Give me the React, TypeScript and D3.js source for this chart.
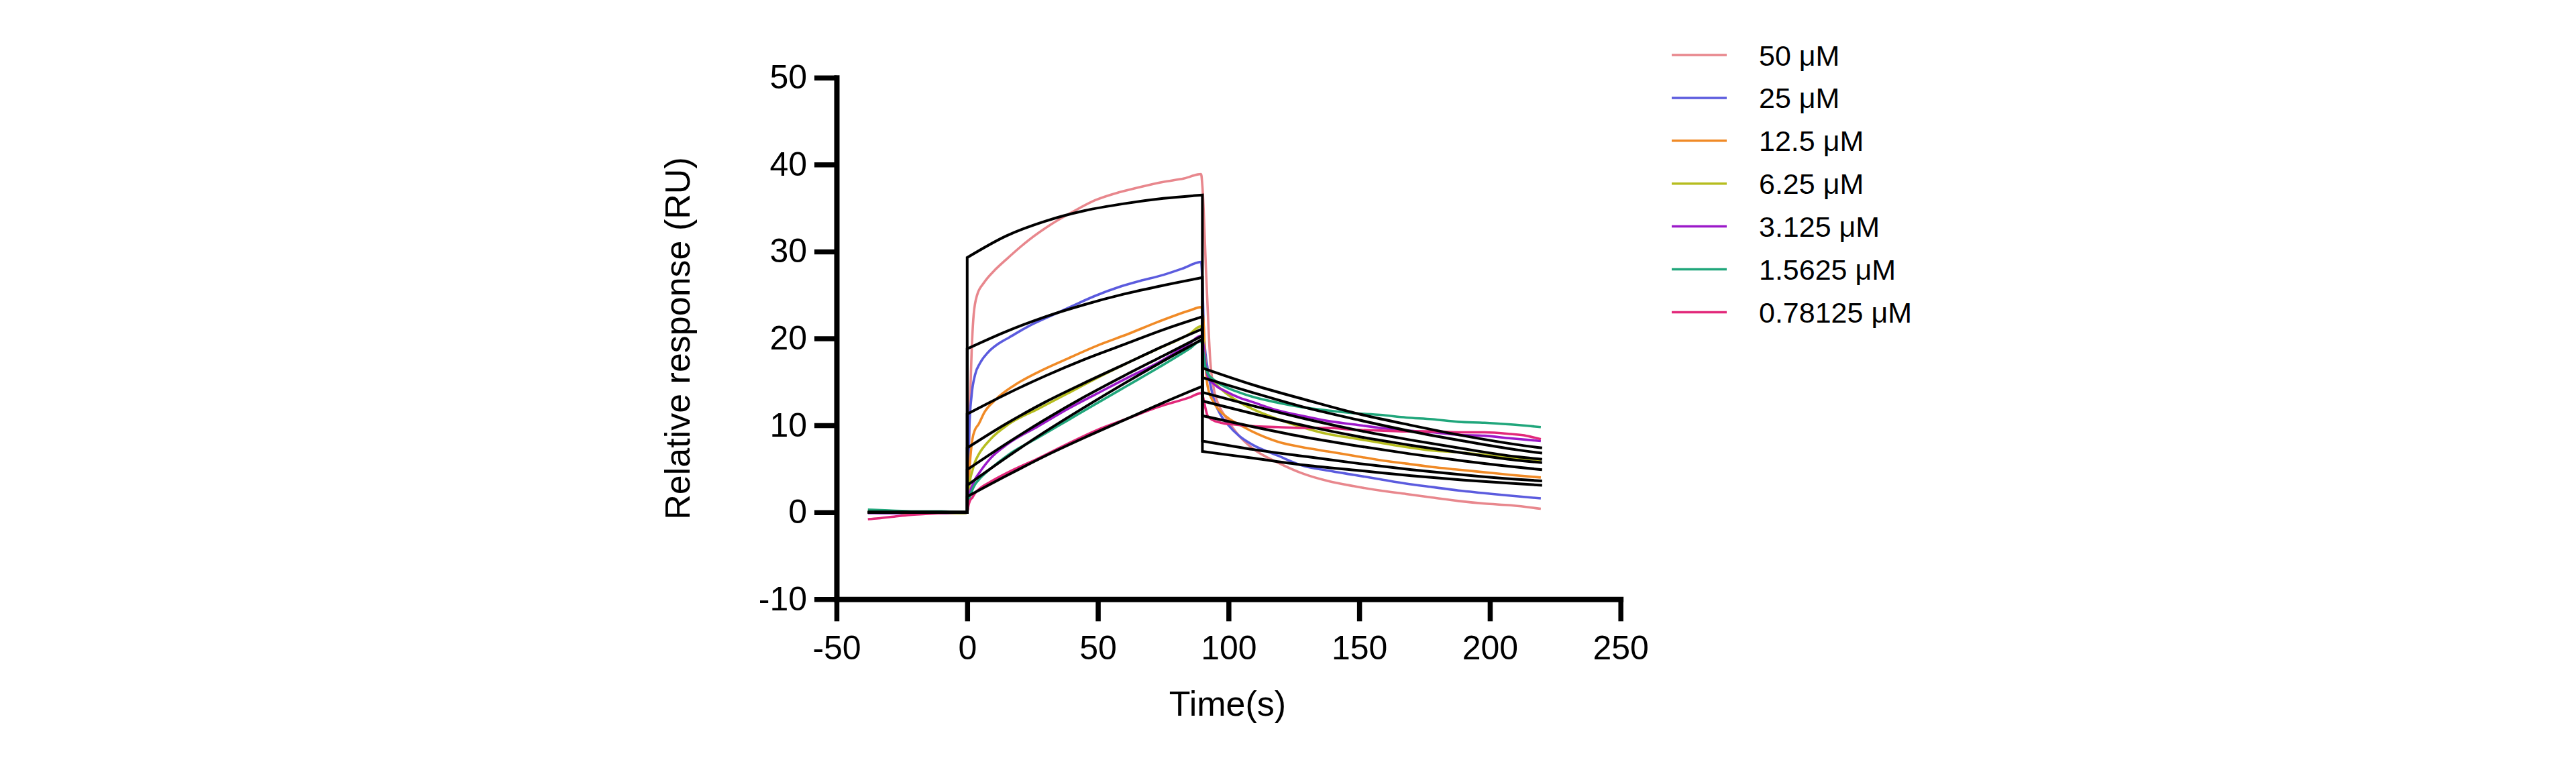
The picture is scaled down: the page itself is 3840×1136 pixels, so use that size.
import React, { useEffect, useRef } from 'react';
import * as d3 from 'd3';

type Pt = [number, number];

const concentrations = ['50 μM', '25 μM', '12.5 μM', '6.25 μM', '3.125 μM', '1.5625 μM', '0.78125 μM'];
const seriesColors = ['#E8878D', '#5B5BDE', '#F08A26', '#B6BD1F', '#9B19C9', '#20A67B', '#E2287A'];

const xTicks = [-50, 0, 50, 100, 150, 200, 250];
const yTicks = [-10, 0, 10, 20, 30, 40, 50];

// Measured sensorgrams: [time (s), response (RU)]
const resp50: Pt[] = [
  [-38, 0.0], [-30, -0.1], [-20, 0.0], [-10, -0.1], [-1, -0.1], [0, 0],
  [0.5, 6], [1, 12], [1.7, 18.5], [2.5, 22.8], [3.8, 25.0], [6.4, 26.4], [10.7, 27.9], [15, 29.1],
  [23.5, 31.3], [32, 33.1], [40.6, 34.6], [49, 35.9], [58, 36.8], [66, 37.4], [75, 38.0], [83, 38.4], [89.5, 38.9],
  [90, 37.5], [91.5, 27], [93, 17.5], [94.5, 14.0], [96.5, 12.2], [99, 10.9], [104, 8.8], [109, 7.4],
  [119, 5.7], [128, 4.5], [138, 3.6], [148, 3.0], [158, 2.5], [168, 2.1], [178, 1.7], [188, 1.3],
  [198, 1.0], [208, 0.8], [219.5, 0.4],
];
const resp25: Pt[] = [
  [-38, 0.0], [-30, -0.1], [-20, -0.1], [-10, 0.0], [-1, -0.1], [0, 0],
  [0.5, 5], [0.8, 9.6], [1.7, 13.5], [3, 15.8], [5, 17.2], [8, 18.4], [12, 19.4], [16, 20.1],
  [23.5, 21.4], [32, 22.6], [40, 23.7], [49, 24.9], [58, 25.9], [66, 26.6], [75, 27.3], [83, 28.1], [89.5, 28.8],
  [90, 26.5], [90.6, 20.5], [92, 16.5], [94, 13.4], [97, 11.2], [100, 10.0], [104, 8.8], [109, 7.8],
  [119, 6.5], [128, 5.4], [138, 4.8], [148, 4.3], [158, 3.8], [168, 3.3], [178, 2.9], [188, 2.5],
  [198, 2.2], [208, 1.9], [219.5, 1.6],
];
const resp12: Pt[] = [
  [-38, 0.1], [-30, 0.0], [-20, -0.1], [-10, -0.1], [-1, 0.0], [0, 0],
  [0.5, 3], [1, 5.5], [2, 8.4], [3, 9.5], [4.3, 10.1], [6.6, 11.5], [11, 13.0], [18, 14.6],
  [27, 16.1], [38.6, 17.7], [50, 19.2], [61.5, 20.5], [73, 21.9], [85, 23.2], [89.5, 23.6],
  [90.3, 22.5], [91, 18], [92, 14.5], [94, 12.8], [96, 11.9], [100, 10.8], [104, 10.1], [109, 9.3],
  [119, 8.1], [128, 7.5], [138, 7.0], [148, 6.5], [158, 6.0], [168, 5.6], [178, 5.2], [188, 4.9],
  [198, 4.6], [208, 4.3], [219.5, 4.0],
];
const resp6: Pt[] = [
  [-38, 0.0], [-30, 0.0], [-20, -0.1], [-10, -0.1], [-1, -0.1], [0, 0],
  [0.5, 2], [1, 3.5], [2, 4.8], [3, 5.8], [4.3, 6.6], [8.9, 8.4], [15.7, 10.1], [27.2, 11.9],
  [38.6, 13.7], [50, 15.5], [61.5, 17.2], [73, 18.8], [85, 20.5], [89.5, 21.4],
  [90.3, 20], [91, 17.5], [92, 16.0], [95, 14.8], [99, 13.7], [104, 12.7], [109, 11.9],
  [119, 10.7], [128, 9.8], [138, 9.0], [148, 8.5], [158, 8.0], [168, 7.5], [178, 7.1], [188, 6.9],
  [198, 6.6], [208, 6.3], [219.5, 6.0],
];
const resp3: Pt[] = [
  [-38, -0.1], [-30, -0.1], [-20, 0.0], [-10, -0.1], [-1, 0.0], [0, 0],
  [0.5, 1.5], [1, 2.3], [2, 3.1], [3, 3.8], [4.3, 4.4], [8.9, 6.2], [15.7, 7.9], [27.2, 9.9],
  [38.6, 11.9], [50, 13.7], [61.5, 15.5], [73, 17.2], [85, 19.4], [89.5, 20.3],
  [90.3, 19.5], [91, 17.5], [92, 15.7], [95, 14.6], [99, 13.9], [104, 13.2], [109, 12.7],
  [119, 11.7], [128, 11.1], [138, 10.5], [148, 10.1], [158, 9.7], [168, 9.4], [178, 9.2], [188, 8.9],
  [198, 8.8], [208, 8.5], [219.5, 8.2],
];
const resp1: Pt[] = [
  [-38, 0.3], [-30, 0.2], [-20, 0.1], [-10, 0.1], [-1, 0.0], [0, 0],
  [0.5, 1.2], [1, 1.8], [2, 2.6], [3, 3.2], [4.3, 3.7], [8.9, 5.0], [15.7, 6.6], [27.2, 8.6],
  [38.6, 10.6], [50, 12.6], [61.5, 14.6], [73, 16.6], [85, 18.8], [89.5, 19.7],
  [90.3, 18.5], [91, 17], [92, 16.0], [95, 15.1], [99, 14.4], [104, 13.8], [109, 13.3],
  [119, 12.6], [128, 12.1], [138, 11.7], [148, 11.4], [158, 11.2], [168, 10.9], [178, 10.7], [188, 10.4],
  [198, 10.3], [208, 10.1], [219.5, 9.8],
];
const resp07: Pt[] = [
  [-38, -0.8], [-34, -0.7], [-28, -0.5], [-22, -0.3], [-16, -0.2], [-10, -0.1], [-4, 0.0], [0, 0],
  [0.5, 0.8], [1, 1.3], [2, 1.7], [3, 2.2], [4.3, 2.6], [8.9, 3.5], [15.7, 4.6], [27.2, 6.2],
  [38.6, 7.9], [50, 9.5], [61.5, 10.8], [73, 12.1], [85, 13.2], [89.5, 13.7],
  [90.3, 13.2], [91, 12.2], [92, 11.1], [94, 10.6], [97, 10.3], [102, 10.1], [109, 9.9],
  [119, 9.8], [128, 9.7], [138, 9.7], [148, 9.5], [158, 9.4], [168, 9.3], [178, 9.3], [188, 9.2],
  [198, 9.2], [208, 9.0], [214, 8.8], [219.5, 8.4],
];
const measured: Pt[][] = [resp50, resp25, resp12, resp6, resp3, resp1, resp07];

// Kinetic fit: baseline, association phase and dissociation phase
const fitBaseline: Pt[] = [[-38, 0], [0, 0]];
const assocTimes = [0, 15, 30, 45, 60, 75, 90];
const fitAssoc50 = [29.3, 31.8, 33.5, 34.7, 35.5, 36.1, 36.5];
const fitAssoc25 = [18.8, 20.8, 22.5, 23.9, 25.1, 26.1, 27.0];
const fitAssoc12 = [11.3, 13.6, 15.7, 17.6, 19.3, 21.0, 22.5];
const fitAssoc6 = [7.4, 10.2, 12.7, 14.9, 17.0, 19.1, 21.1];
const fitAssoc3 = [4.9, 7.9, 10.7, 13.3, 15.7, 18.0, 20.3];
const fitAssoc1 = [3.1, 6.3, 9.3, 12.1, 14.8, 17.4, 19.9];
const fitAssoc07 = [1.8, 4.2, 6.5, 8.6, 10.6, 12.6, 14.5];
const dissTimes = [90, 110, 130, 150, 170, 190, 210, 220];
const fitDiss50 = [7.0, 6.2, 5.4, 4.8, 4.2, 3.7, 3.3, 3.1];
const fitDiss25 = [8.2, 7.2, 6.4, 5.6, 4.9, 4.3, 3.8, 3.6];
const fitDiss12 = [11.1, 9.8, 8.6, 7.6, 6.7, 5.9, 5.2, 4.9];
const fitDiss6 = [13.8, 12.2, 10.7, 9.4, 8.3, 7.3, 6.4, 6.1];
const fitDiss3 = [15.5, 13.7, 12.0, 10.6, 9.3, 8.2, 7.2, 6.8];
const fitDiss1 = [16.6, 14.6, 12.9, 11.3, 10.0, 8.8, 7.8, 7.4];
const fitDiss07 = [12.8, 11.3, 9.9, 8.7, 7.7, 6.8, 6.0, 5.7];
const fitAssoc = [fitAssoc50, fitAssoc25, fitAssoc12, fitAssoc6, fitAssoc3, fitAssoc1, fitAssoc07];
const fitDiss = [fitDiss50, fitDiss25, fitDiss12, fitDiss6, fitDiss3, fitDiss1, fitDiss07];

const W = 3840;
const H = 1136;
const FONT = '"Liberation Sans", Arial, Helvetica, sans-serif';

const x = d3.scaleLinear().domain([-50, 250]).range([1247, 2415.7]);
const y = d3.scaleLinear().domain([-10, 50]).range([893.3, 115.7]);

const straight = d3.line<Pt>().x((d) => x(d[0])).y((d) => y(d[1]));
const smooth = d3.line<Pt>().x((d) => x(d[0])).y((d) => y(d[1])).curve(d3.curveMonotoneX);

// joins several path pieces into one continuous path
function joinPaths(parts: string[]): string {
  return parts.map((p, i) => (i === 0 ? p : 'L' + p.slice(1))).join('');
}

function fitPath(i: number): string {
  const a: Pt[] = assocTimes.map((t, k) => [t, fitAssoc[i][k]]);
  const d: Pt[] = dissTimes.map((t, k) => [t, fitDiss[i][k]]);
  return joinPaths([straight(fitBaseline) as string, smooth(a) as string, smooth(d) as string]);
}

export default function App() {
  const xAxisRef = useRef<SVGGElement>(null);
  const yAxisRef = useRef<SVGGElement>(null);

  useEffect(() => {
    const style = (g: d3.Selection<SVGGElement, unknown, null, undefined>) => {
      g.select('.domain').attr('stroke-width', 8).attr('stroke-linecap', 'square').attr('stroke', '#000');
      g.selectAll('.tick line').attr('stroke-width', 7.5).attr('stroke', '#000');
      g.selectAll('.tick text').attr('font-size', 50).attr('font-family', FONT).attr('fill', '#000');
    };
    if (xAxisRef.current) {
      const g = d3.select(xAxisRef.current);
      g.call(
        d3.axisBottom(x).tickValues(xTicks).tickSize(33).tickSizeOuter(0).tickPadding(21)
          .tickFormat((d) => String(d))
      );
      style(g);
    }
    if (yAxisRef.current) {
      const g = d3.select(yAxisRef.current);
      g.call(
        d3.axisLeft(y).tickValues(yTicks).tickSize(33).tickSizeOuter(0).tickPadding(11)
          .tickFormat((d) => String(d))
      );
      style(g);
    }
  }, []);

  const legendX0 = 2492;
  const legendX1 = 2574;
  const legendTextX = 2622;
  const legendY0 = 82;
  const legendStep = 63.9;

  return (
    <svg
      width={W}
      height={H}
      viewBox={`0 0 ${W} ${H}`}
      style={{ position: 'absolute', left: 0, top: 0, background: '#fff' }}
      fontFamily={FONT}
    >
      <rect x={0} y={0} width={W} height={H} fill="#fff" />

      {measured.map((s, i) => (
        <path
          key={`m${i}`}
          d={smooth(s) as string}
          fill="none"
          stroke={seriesColors[i]}
          strokeWidth={3.6}
          strokeLinejoin="round"
        />
      ))}

      {fitAssoc.map((_, i) => (
        <path key={`f${i}`} d={fitPath(i)} fill="none" stroke="#000" strokeWidth={4} strokeLinejoin="miter" />
      ))}

      <g ref={xAxisRef} transform={`translate(0,${y(-10)})`} />
      <g ref={yAxisRef} transform={`translate(${x(-50)},0)`} />

      <text x={1830} y={1067} fontSize={52} textAnchor="middle" fill="#000">
        Time(s)
      </text>
      <text
        transform={`translate(1028,${(y(50) + y(-10)) / 2}) rotate(-90)`}
        fontSize={52}
        textAnchor="middle"
        fill="#000"
      >
        Relative response (RU)
      </text>

      {concentrations.map((c, i) => {
        const ly = legendY0 + i * legendStep;
        return (
          <g key={`l${i}`}>
            <line x1={legendX0} x2={legendX1} y1={ly} y2={ly} stroke={seriesColors[i]} strokeWidth={3.5} />
            <text x={legendTextX} y={ly + 15.5} fontSize={43} fill="#000">
              {c}
            </text>
          </g>
        );
      })}
    </svg>
  );
}
